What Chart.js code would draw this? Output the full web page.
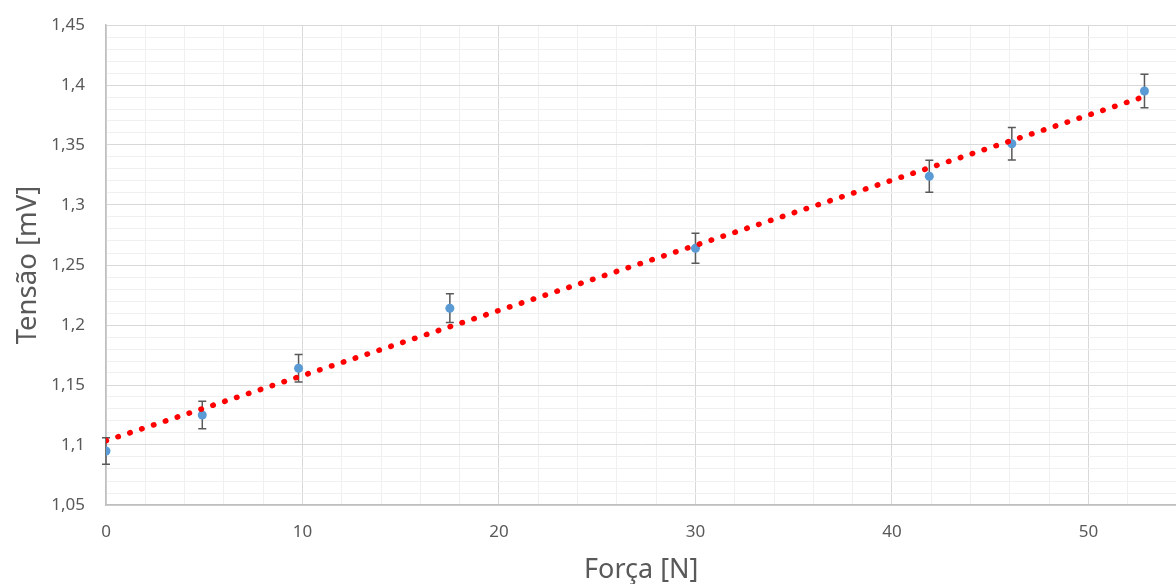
<!DOCTYPE html>
<html>
<head>
<meta charset="utf-8">
<script src="https://cdn.jsdelivr.net/npm/chart.js@4.4.1/dist/chart.umd.min.js"></script>
<style>
  html, body { margin: 0; padding: 0; background: #fff; overflow: hidden; }
  #wrap { width: 1181px; height: 584px; }
</style>
</head>
<body>
<div id="wrap"><canvas id="myChart"></canvas></div>
<script>
// medidas
const forca = [0, 4.9, 9.8, 17.5, 30, 41.9, 46.1, 52.85];
const tensao = [1.095, 1.125, 1.164, 1.214, 1.264, 1.324, 1.351, 1.395];
const erro = [0.011, 0.0115, 0.0115, 0.012, 0.0125, 0.0133, 0.0135, 0.014];

// linha de tendencia
const trendX = [0, 52.85];
const trendY = [1.1036, 1.3904];

const fmt = v => String(Math.round(v * 100) / 100).replace('.', ',');
const isMult = (v, s) => Math.abs(v / s - Math.round(v / s)) < 1e-6;

// barras de erro
const errorBars = {
    id: 'errorBars',
    beforeDatasetsDraw(chart) {
        const ctx = chart.ctx;
        const xs = chart.scales.x, ys = chart.scales.y;
        ctx.save();
        ctx.strokeStyle = '#595959';
        ctx.lineWidth = 1.5;
        forca.forEach((f, i) => {
            const px = xs.getPixelForValue(f);
            const top = ys.getPixelForValue(tensao[i] + erro[i]);
            const bot = ys.getPixelForValue(tensao[i] - erro[i]);
            ctx.beginPath();
            ctx.moveTo(px, top); ctx.lineTo(px, bot);
            ctx.moveTo(px - 4, top); ctx.lineTo(px + 4, top);
            ctx.moveTo(px - 4, bot); ctx.lineTo(px + 4, bot);
            ctx.stroke();
        });
        ctx.restore();
    }
};

const config = {
    type: 'scatter',
    data: {
        datasets: [{
            data: forca.map((f, i) => ({x: f, y: tensao[i]})),
            backgroundColor: '#5B9BD5',
            borderWidth: 0,
            pointRadius: 4.5,
            order: 1
        }, {
            type: 'line',
            data: trendX.map((f, i) => ({x: f, y: trendY[i]})),
            borderColor: '#ff0000',
            borderWidth: 5.5,
            borderDash: [0.5, 12],
            borderCapStyle: 'round',
            pointRadius: 0,
            fill: false,
            order: 0
        }]
    },
    options: {
        responsive: true,
        maintainAspectRatio: false,
        animation: false,
        layout: { padding: { top: 25, right: 0, left: 0, bottom: 0 } },
        scales: {
            x: {
                type: 'linear',
                min: 0,
                max: 54.48,
                afterFit: s => { s.paddingRight = 0; s.paddingLeft = 0; s.height = 79; },
                grid: {
                    color: c => isMult(c.tick.value, 10) ? '#d9d9d9' : '#f0f0f0',
                    lineWidth: 1,
                    drawTicks: false
                },
                border: { color: '#bfbfbf', width: 1.5 },
                ticks: {
                    stepSize: 2,
                    autoSkip: false,
                    maxRotation: 0,
                    padding: 17,
                    color: '#595959',
                    font: { family: 'Noto Sans', size: 17 },
                    callback: v => isMult(v, 10) ? String(v) : ''
                },
                title: {
                    display: true,
                    text: 'Força [N]',
                    color: '#595959',
                    font: { family: 'Noto Sans', size: 27, lineHeight: 1 },
                    padding: { top: 0, bottom: 0 }
                }
            },
            y: {
                min: 1.05,
                max: 1.45,
                afterFit: s => { s.width = 106; s.paddingTop = 0; s.paddingBottom = 0; },
                grid: {
                    color: c => isMult(c.tick.value, 0.05) ? '#d9d9d9' : '#f0f0f0',
                    lineWidth: 1,
                    drawTicks: false
                },
                border: { color: '#bfbfbf', width: 1.5 },
                ticks: {
                    stepSize: 0.01,
                    autoSkip: false,
                    padding: 21,
                    color: '#595959',
                    font: { family: 'Noto Sans', size: 17 },
                    callback: v => isMult(v, 0.05) ? fmt(v) : ''
                },
                title: {
                    display: true,
                    text: 'Tensão [mV]',
                    color: '#595959',
                    font: { family: 'Noto Sans', size: 27.5, lineHeight: 1 },
                    padding: { top: 14, bottom: 0 }
                }
            }
        },
        plugins: {
            legend: { display: false },
            tooltip: { enabled: false }
        }
    },
    plugins: [errorBars]
};

const myChart = new Chart(document.getElementById('myChart'), config);
</script>
</body>
</html>
